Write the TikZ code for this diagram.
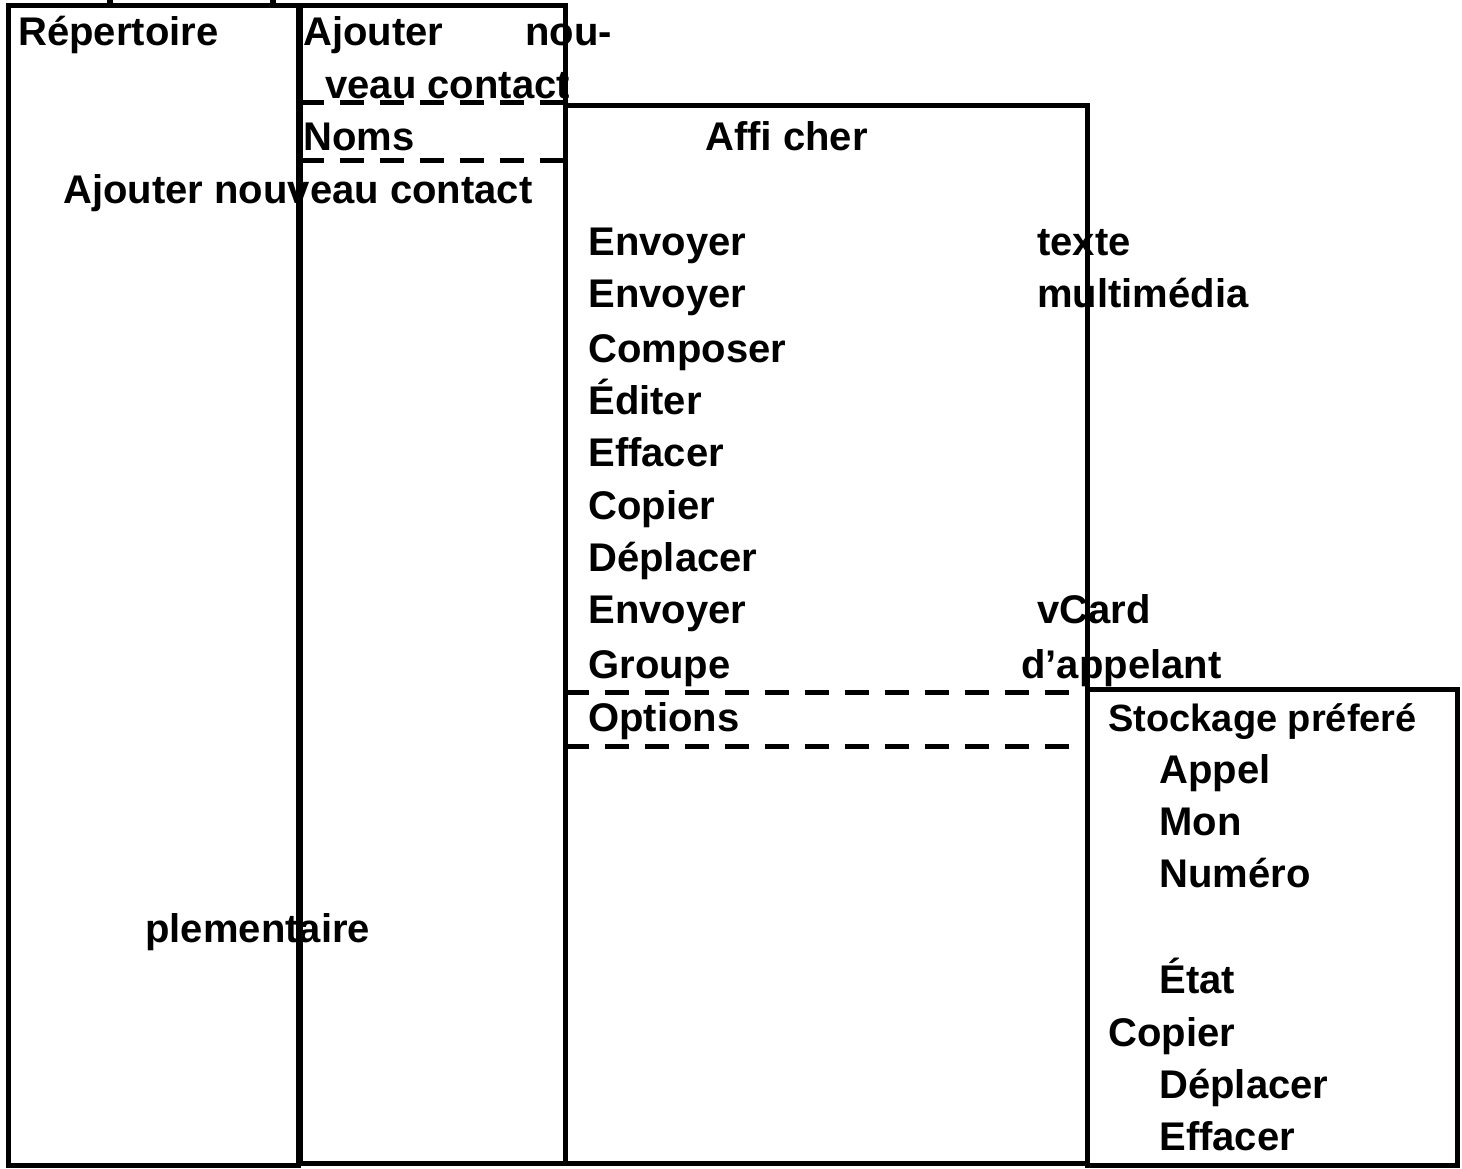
\documentclass[tikz,border=0pt]{standalone}
\usepackage{fontspec}
\setmainfont{Liberation Sans}
\begin{document}
\begin{tikzpicture}[x=0.5pt,y=-0.5pt,
  t/.style={anchor=base west,inner sep=0pt,font=\fontsize{20}{24}\selectfont\bfseries},
  box/.style={line width=2.5pt},
  dsh/.style={line width=2.5pt,dash pattern=on 12pt off 8pt}]
\useasboundingbox (0,0) rectangle (1462,1168);
\draw[box] (8,5) rectangle (298,1165);
\draw[box] (300,5) rectangle (565,1163);
\draw[box] (565,105) rectangle (1087,1163);
\draw[box] (1087,689) rectangle (1457,1165);
\draw[line width=3pt] (110,0) -- (110,5) (273,0) -- (273,5);
\draw[dsh] (300,102) -- (565,102);
\draw[dsh] (300,160) -- (565,160);
\draw[dsh] (565,692) -- (1087,692);
\draw[dsh] (565,746) -- (1087,746);
\node[t] (a1) at (18,45) {Répertoire};
\node[t] (a2) at (303,45) {Ajouter};
\node[t] (a3) at (525,45) {nou-};
\node[t] (a4) at (325,98) {veau contact};
\node[t] (a5) at (303,150) {Noms};
\node[t] (a6) at (63,203) {Ajouter nouveau contact};
\node[t] (a7) at (705,150) {Afﬁ cher};
\node[t] (b1) at (588,255) {Envoyer};
\node[t] (b1b) at (1037,255) {texte};
\node[t] (b2) at (588,307) {Envoyer};
\node[t] (b2b) at (1037,307) {multimédia};
\node[t] (b3) at (588,362) {Composer};
\node[t] (b4) at (588,414) {Éditer};
\node[t] (b5) at (588,466) {Effacer};
\node[t] (b6) at (588,519) {Copier};
\node[t] (b7) at (588,571) {Déplacer};
\node[t] (b8) at (588,623) {Envoyer};
\node[t] (b8b) at (1037,623) {vCard};
\node[t] (b9) at (588,678) {Groupe};
\node[t] (b9b) at (1021,678) {d’appelant};
\node[t] (b10) at (588,731) {Options};
\node[t,font=\fontsize{19}{23}\selectfont\bfseries] (c1) at (1108,731) {Stockage préferé};
\node[t] (c2) at (1159,783) {Appel};
\node[t] (c3) at (1159,835) {Mon};
\node[t] (c4) at (1159,887) {Numéro};
\node[t] (c5) at (1159,993) {État};
\node[t] (c6) at (1108,1046) {Copier};
\node[t] (c7) at (1159,1098) {Déplacer};
\node[t] (c8) at (1159,1150) {Effacer};
\node[t] (d1) at (145,942) {plementaire};
\end{tikzpicture}
\end{document}
